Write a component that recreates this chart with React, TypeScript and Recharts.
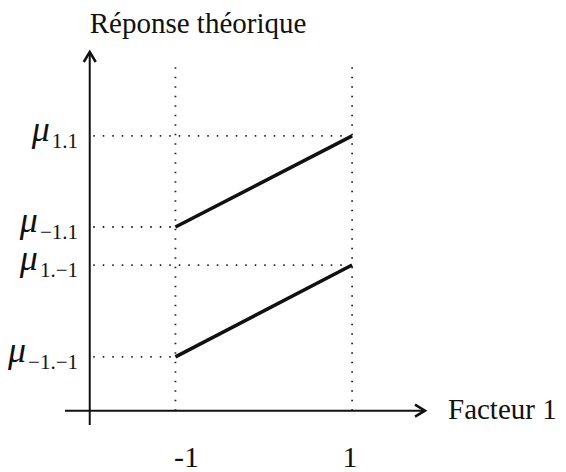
import { ComposedChart, Line, ReferenceLine, XAxis, YAxis } from "recharts";

// factor 1 levels and the theoretical responses for factor 2 = 1 / -1
const FACTOR1 = [-1, 1];
const RESP_F2_HIGH = [5.12, 7.66]; // μ−1.1, μ1.1
const RESP_F2_LOW = [1.5, 4.06]; // μ−1.−1, μ1.−1

// y tick marks: the four means and their subscripts
const MU_TICKS = [1.5, 4.06, 5.12, 7.66];
const MU_SUBS = ["−1.−1", "1.−1", "−1.1", "1.1"];
const MU_LEVEL = [-1, 1, -1, 1];

const X_DOMAIN = [-2.25, 1.825];
const Y_DOMAIN = [-0.4, 10];
const AXIS_X = -1.97;
const GUIDE_LEFT = -1.93;
const GUIDE_TOP = 9.6;

const data = FACTOR1.map((x, i) => ({ x, high: RESP_F2_HIGH[i], low: RESP_F2_LOW[i] }));

const FONT = '"Liberation Serif", "Times New Roman", serif';
const INK = "#111";

function YArrow(p: any) {
  return (
    <g>
      <line x1={p.x1} y1={p.y1} x2={p.x2} y2={p.y2} stroke={INK} strokeWidth={2} />
      <polyline
        points={`${p.x2 - 6},${p.y2 + 10} ${p.x2},${p.y2} ${p.x2 + 6},${p.y2 + 10}`}
        fill="none"
        stroke={INK}
        strokeWidth={2.5}
      />
      <text x={p.x2} y={p.y2 - 19} fontSize={29} fontFamily={FONT} fill={INK}>
        Réponse théorique
      </text>
    </g>
  );
}

function XArrow(p: any) {
  return (
    <g>
      <line x1={p.x1} y1={p.y1} x2={p.x2} y2={p.y2} stroke={INK} strokeWidth={2} />
      <polyline
        points={`${p.x2 - 10},${p.y2 - 6} ${p.x2},${p.y2} ${p.x2 - 10},${p.y2 + 6}`}
        fill="none"
        stroke={INK}
        strokeWidth={2.5}
      />
      <text x={p.x2 + 23} y={p.y2 + 8} fontSize={29} fontFamily={FONT} fill={INK}>
        Facteur 1
      </text>
    </g>
  );
}

function MuTick({ x, y, payload }: any) {
  const i = MU_TICKS.indexOf(payload.value);
  return (
    <text x={x + 13} y={y + 5} textAnchor="end" fontFamily={FONT} fill={INK}>
      <tspan fontSize={36} fontStyle="italic">μ</tspan>
      <tspan fontSize={21} dx={2} dy={7}>{MU_SUBS[i]}</tspan>
    </text>
  );
}

function LevelTick({ x, y, payload }: any) {
  return (
    <text x={x + (payload.value < 0 ? 11 : -2)} y={y + 42} textAnchor="middle" fontSize={30} fontFamily={FONT} fill={INK}>
      {payload.value}
    </text>
  );
}

const dotted = { stroke: "#222", strokeWidth: 1.8, strokeDasharray: "1.5 8" };

export default function App() {
  return (
    <div style={{ position: "absolute", left: 0, top: 0, background: "#fff" }}>
      <ComposedChart width={566} height={472} data={data} margin={{ top: 52, right: 141, bottom: 0, left: 5 }}>
        <XAxis
          type="number"
          dataKey="x"
          domain={X_DOMAIN}
          ticks={FACTOR1}
          axisLine={false}
          tickLine={false}
          tickSize={0}
          tickMargin={0}
          height={47}
          tick={<LevelTick />}
          allowDataOverflow
        />
        <YAxis
          type="number"
          domain={Y_DOMAIN}
          ticks={MU_TICKS}
          axisLine={false}
          tickLine={false}
          tickSize={0}
          tickMargin={0}
          width={60}
          tick={<MuTick />}
          allowDataOverflow
        />
        {FACTOR1.map((lv) => (
          <ReferenceLine key={`v${lv}`} segment={[{ x: lv, y: 0 }, { x: lv, y: GUIDE_TOP }]} {...dotted} />
        ))}
        {MU_TICKS.map((v, i) => (
          <ReferenceLine key={`h${i}`} segment={[{ x: GUIDE_LEFT, y: v }, { x: MU_LEVEL[i], y: v }]} {...dotted} />
        ))}
        <ReferenceLine segment={[{ x: X_DOMAIN[0], y: 0 }, { x: X_DOMAIN[1], y: 0 }]} shape={XArrow} />
        <ReferenceLine segment={[{ x: AXIS_X, y: Y_DOMAIN[0] }, { x: AXIS_X, y: Y_DOMAIN[1] }]} shape={YArrow} />
        <Line type="linear" dataKey="high" stroke={INK} strokeWidth={3.5} dot={false} isAnimationActive={false} />
        <Line type="linear" dataKey="low" stroke={INK} strokeWidth={3.5} dot={false} isAnimationActive={false} />
      </ComposedChart>
    </div>
  );
}
